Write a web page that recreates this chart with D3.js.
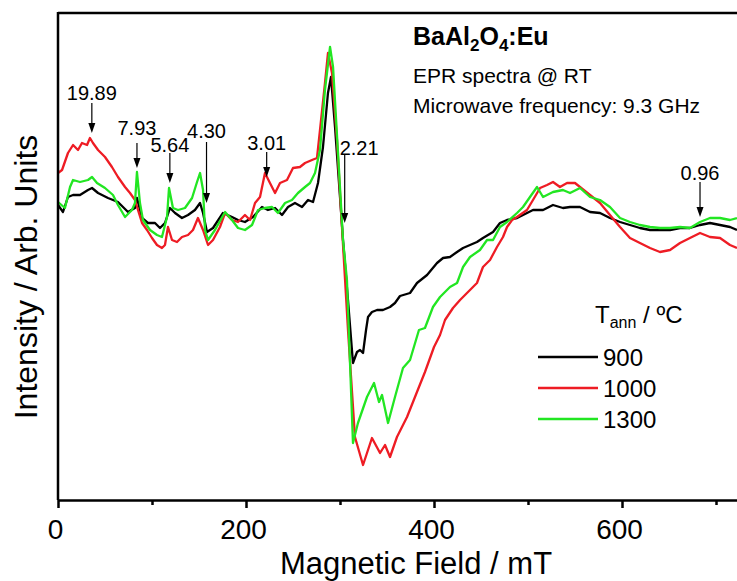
<!DOCTYPE html>
<html>
<head>
<meta charset="utf-8">
<script src="https://cdn.jsdelivr.net/npm/d3@7"></script>
<style>
  body { margin: 0; background: #fff; }
  svg { display: block; font-family: Arial, "Liberation Sans", sans-serif; }
</style>
</head>
<body>
<div id="chart"></div>
<script>
// EPR spectra, [field in mT, intensity in arb. units]
const s900 = [[0,295],[5.3,288],[10.6,303],[16,305],[23.4,305],[31.9,310],[36.2,312],[42.6,307],[53.2,302],[63.8,298],[74.5,288],[81.9,292],[84,302],[89.4,282],[95.7,277],[103.2,277],[108.5,272],[113.8,277],[119.1,292],[124.5,287],[131.9,282],[138.3,285],[145.7,290],[151.1,297],[154.3,287],[158.5,268],[164.9,272],[175.5,287],[185.1,283],[191.5,280],[198.9,278],[207.4,283],[217,293],[223.4,290],[230.9,292],[238.3,285],[244.7,293],[252.1,297],[259.6,293],[266,300],[271.3,298],[276.6,317],[281.9,353],[287.2,407],[290.4,423],[294.7,373],[300,303],[303.2,260],[308.5,200],[313.8,137],[318.1,148],[321.3,150],[324.5,147],[327.7,170],[329.8,183],[334,188],[339.4,190],[345.7,190],[353.2,193],[358.5,197],[363.8,204],[374.5,207],[381.9,217],[392.6,225],[403.2,237],[409.6,242],[417,243],[424.5,248],[430.9,252],[438.3,255],[445.7,258],[452.1,262],[462.8,268],[470.2,277],[477.7,280],[488.3,282],[494.7,285],[505.3,290],[516,290],[526.6,295],[537.2,292],[544.7,293],[555.3,293],[566,288],[576.6,287],[587.2,282],[597.9,278],[608.5,275],[619.1,272],[629.8,270],[640.4,270],[651.1,270],[661.7,272],[672.3,272],[683,275],[693.6,277],[704.3,275],[714.9,273],[722.3,270]];

const s1000 = [[0,327],[4.3,330],[10.6,347],[16,355],[21.3,350],[25.5,357],[30.9,355],[34,362],[37.2,357],[42.6,350],[50,343],[57.4,333],[63.8,323],[71.3,313],[76.6,307],[81.9,300],[85.1,290],[89.4,277],[94.7,270],[100,262],[105.3,255],[110.6,252],[113.8,255],[117,273],[121.3,260],[126.6,258],[131.9,263],[138.3,265],[143.6,270],[148.9,282],[154.3,270],[159.6,255],[164.9,260],[172.3,273],[177.7,287],[185.1,280],[191.5,278],[198.9,285],[204.3,280],[209.6,297],[214.9,303],[220.2,327],[225.5,317],[230.9,307],[236.2,317],[243.6,320],[250,332],[257.4,333],[262.8,337],[270.2,340],[275.5,342],[278.7,370],[284,417],[287.2,447],[291.5,427],[296.8,360],[302.1,273],[308.5,170],[315.9,63],[324.5,35],[334,62],[342.6,47],[347.9,55],[353.2,43],[360.6,63],[371.3,83],[384,113],[390.4,128],[400,153],[406.4,165],[411.7,180],[420.2,192],[427.7,200],[435.1,207],[445.7,217],[452.1,233],[459.6,240],[467,253],[473.4,263],[477.7,273],[483,280],[488.3,283],[498.9,290],[505.3,300],[512.8,312],[520.2,315],[526.6,318],[534,313],[541.5,317],[550,317],[555.3,313],[566,305],[576.6,297],[587.2,285],[597.9,273],[608.5,262],[619.1,257],[629.8,252],[640.4,248],[651.1,250],[661.7,257],[672.3,262],[683,267],[693.6,263],[704.3,262],[714.9,255],[722.3,252]];

const s1300 = [[0,298],[7.4,292],[12.8,313],[16,320],[23.4,318],[31.9,320],[36.2,323],[41.5,317],[50,312],[58.5,305],[63.8,295],[71.3,283],[78.7,290],[81.9,297],[84,328],[87.2,297],[90.4,280],[97.9,270],[105.3,265],[110.6,263],[116,283],[118.1,312],[122.3,292],[127.7,290],[135.1,292],[142.6,302],[147.9,318],[151.1,327],[154.3,310],[156.4,270],[159.6,260],[167,270],[177.7,288],[185.1,280],[191.5,272],[198.9,270],[206.4,275],[212.8,290],[220.2,292],[227.7,293],[234,287],[241.5,297],[248.9,300],[255.3,307],[262.8,313],[268.1,317],[273.4,327],[278.7,350],[284,410],[289.4,453],[292.6,433],[297.9,347],[303.2,260],[307.4,220],[313.8,57],[319.1,77],[328.7,103],[336.2,117],[341.5,98],[344.7,105],[351.1,77],[358.5,103],[367,132],[374.5,140],[384,170],[390.4,172],[398.9,193],[406.4,203],[417,213],[424.5,217],[430.9,233],[438.3,243],[448.9,250],[456.4,260],[462.8,260],[470.2,273],[477.7,278],[488.3,287],[494.7,293],[502.1,303],[509.6,313],[516,303],[526.6,308],[537.2,310],[544.7,307],[555.3,312],[566,303],[576.6,300],[587.2,293],[597.9,282],[608.5,278],[619.1,275],[629.8,273],[640.4,272],[651.1,272],[661.7,273],[672.3,272],[683,278],[693.6,282],[704.3,282],[714.9,280],[722.3,282]];

const seriesNames = ["900", "1000", "1300"];
const seriesData = [s900, s1000, s1300];
const seriesColors = ["#000000", "#ee1c24", "#22e622"];

// g-value markers: label, field (mT), arrow top / tip and label baseline (arb. units)
const annLabels = ["19.89", "7.93", "5.64", "4.30", "3.01", "2.21", "0.96"];
const annField  = [36, 84, 119, 158, 222, 305, 683];
const annTop    = [397, 357, 347, 358, 348, 345, 318];
const annTip    = [367, 332, 317, 297, 323, 277, 283];
const annText   = [400, 365, 348, 362, 350, 345, 320];

const majorTicks = [0, 200, 400, 600];
const minorTicks = [100, 300, 500, 700];

const W = 737, H = 581;
const plotLeft = 58, plotTop = 13, plotBottom = 500;

const svg = d3.select("#chart").append("svg")
    .attr("width", W)
    .attr("height", H);

const x = d3.scaleLinear().domain([0, 740]).range([plotLeft, plotLeft + 740 * 0.94]);
const y = d3.scaleLinear().domain([0, 487]).range([plotBottom, plotTop]);

svg.append("clipPath").attr("id", "plotClip")
  .append("rect")
    .attr("x", plotLeft).attr("y", plotTop)
    .attr("width", W - plotLeft).attr("height", plotBottom - plotTop);

// spectra
const line = d3.line().x(d => x(d[0])).y(d => y(d[1]));
const plot = svg.append("g").attr("clip-path", "url(#plotClip)");
seriesData.forEach((s, i) => {
    plot.append("path")
        .datum(s)
        .attr("fill", "none")
        .attr("stroke", seriesColors[i])
        .attr("stroke-width", 2.3)
        .attr("stroke-linejoin", "round")
        .attr("d", line);
});

// frame: left and top edges
svg.append("line")
    .attr("x1", plotLeft).attr("x2", plotLeft)
    .attr("y1", plotTop - 1).attr("y2", plotBottom)
    .attr("stroke", "#000").attr("stroke-width", 2.5);
svg.append("line")
    .attr("x1", plotLeft).attr("x2", W)
    .attr("y1", plotTop).attr("y2", plotTop)
    .attr("stroke", "#000").attr("stroke-width", 2.5);

// x axis
const minorAxis = d3.axisBottom(x).tickValues(minorTicks).tickSize(5).tickSizeOuter(0).tickFormat("");
const majorAxis = d3.axisBottom(x).tickValues(majorTicks).tickSize(8).tickSizeOuter(0).tickPadding(11);

svg.append("g")
    .attr("transform", `translate(0,${plotBottom})`)
    .call(minorAxis)
    .call(g => g.select(".domain").remove())
    .call(g => g.selectAll("line").attr("stroke-width", 2.5));

svg.append("g")
    .attr("transform", `translate(0,${plotBottom})`)
    .call(majorAxis)
    .call(g => g.select(".domain").attr("stroke-width", 2.5))
    .call(g => g.selectAll("line").attr("stroke-width", 2.5))
    .call(g => g.selectAll("text")
        .attr("font-size", "28px")
        .attr("font-family", "Arial, 'Liberation Sans', sans-serif")
        .attr("dx", -3)
        .attr("fill", "#000"));

svg.append("text")
    .attr("x", 416)
    .attr("y", 574)
    .attr("text-anchor", "middle")
    .attr("font-size", "31px")
    .text("Magnetic Field / mT");

svg.append("text")
    .attr("transform", "translate(37,277) rotate(-90)")
    .attr("text-anchor", "middle")
    .attr("font-size", "32px")
    .text("Intensity / Arb. Units");

// g-value arrows
const ann = svg.append("g");
annLabels.forEach((lab, i) => {
    const ax = x(annField[i]);
    const y0 = y(annTop[i]);
    const y1 = y(annTip[i]);
    ann.append("line")
        .attr("x1", ax).attr("x2", ax)
        .attr("y1", y0).attr("y2", y1 - 8)
        .attr("stroke", "#000").attr("stroke-width", 1.2);
    ann.append("path")
        .attr("d", `M${ax - 3.5},${y1 - 10}L${ax + 3.5},${y1 - 10}L${ax},${y1}Z`)
        .attr("fill", "#000");
    const isStart = lab === "2.21";
    ann.append("text")
        .attr("x", isStart ? ax - 5 : ax)
        .attr("y", y(annText[i]))
        .attr("text-anchor", isStart ? "start" : "middle")
        .attr("font-size", "20px")
        .text(lab);
});

// sample info
const title = svg.append("text")
    .attr("x", 413).attr("y", 45)
    .attr("font-size", "25px")
    .attr("font-weight", "bold");
title.append("tspan").text("BaAl");
title.append("tspan").attr("font-size", "17px").attr("dy", 6).text("2");
title.append("tspan").attr("dy", -6).text("O");
title.append("tspan").attr("font-size", "17px").attr("dy", 6).text("4");
title.append("tspan").attr("dy", -6).text(":Eu");

svg.append("text")
    .attr("x", 413).attr("y", 83)
    .attr("font-size", "21px")
    .text("EPR spectra @ RT");

svg.append("text")
    .attr("x", 413).attr("y", 113)
    .attr("font-size", "21px")
    .text("Microwave frequency: 9.3 GHz");

// legend
const legend = svg.append("g");
const lt = legend.append("text")
    .attr("x", 595).attr("y", 323)
    .attr("font-size", "24px");
lt.append("tspan").text("T");
lt.append("tspan").attr("font-size", "16px").attr("dy", 5).text("ann");
lt.append("tspan").attr("dy", -5).text(" / ºC");

seriesNames.forEach((name, i) => {
    const ly = 357 + i * 31;
    legend.append("line")
        .attr("x1", 538).attr("x2", 598)
        .attr("y1", ly).attr("y2", ly)
        .attr("stroke", seriesColors[i])
        .attr("stroke-width", 2.3);
    legend.append("text")
        .attr("x", 603).attr("y", ly + 8.5)
        .attr("font-size", "24px")
        .text(name);
});
</script>
</body>
</html>
